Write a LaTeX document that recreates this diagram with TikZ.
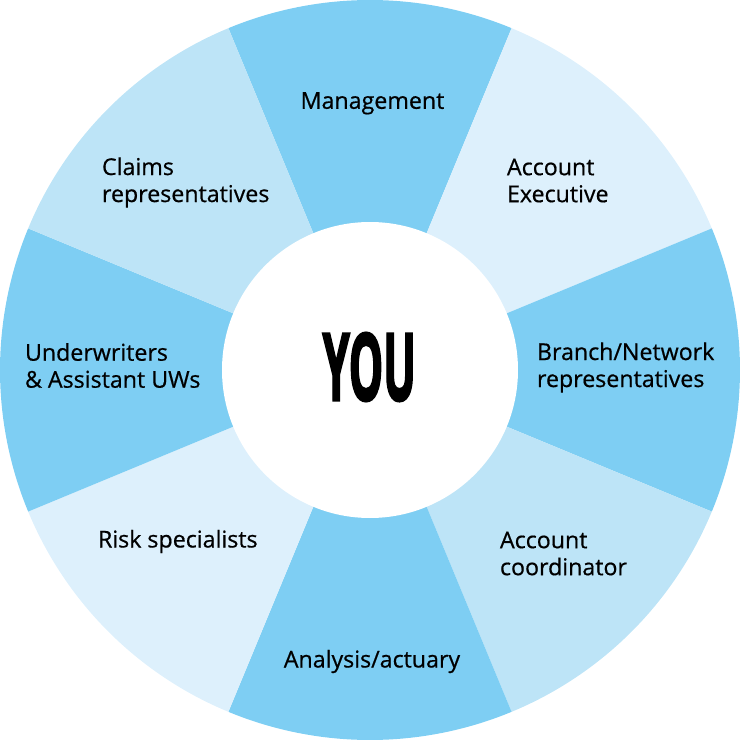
\documentclass[tikz,border=0pt]{standalone}
\usepackage{fontspec}
\setmainfont{Open Sans}[UprightFeatures={FakeBold=0.6},BoldFeatures={FakeBold=3}]
\definecolor{wheeldark}{HTML}{7ECEF3}
\definecolor{wheelmid}{HTML}{BDE4F7}
\definecolor{wheellight}{HTML}{DDF0FC}
\begin{document}
\begin{tikzpicture}[x=0.5pt,y=0.5pt,inner sep=0pt,outer sep=0pt,
role/.style={font=\fontsize{11.6}{13.5}\selectfont,align=left,anchor=west},
rolec/.style={font=\fontsize{11.6}{13.5}\selectfont,anchor=base}]
\useasboundingbox (-370,-370) rectangle (370,370);
% wheel sectors
\foreach \a/\c in {90/wheeldark,45/wheellight,0/wheeldark,-45/wheelmid,-90/wheeldark,-135/wheellight,180/wheeldark,135/wheelmid}
  \fill[\c] (0,0) -- (\a-22.5:370) arc[start angle=\a-22.5,end angle=\a+22.5,radius=370] -- cycle;
\fill[white] (0,0) circle[radius=148];
\node (you) at (-0.7,3) {\resizebox{46.6pt}{33.7pt}{\bfseries YOU}};
% labels
\node[rolec] (mgmt) at (2.5,261.2) {Management};
\node[role] (ae) at (137,189.5) {Account\\Executive};
\node[role] (branch) at (167,2.5) {Branch/Network\\representatives};
\node[role] (coord) at (130,-183.5) {Account\\coordinator};
\node[rolec] (actuary) at (2,-297.5) {Analysis/actuary};
\node[rolec,anchor=base west] (risk) at (-272,-177.5) {Risk specialists};
\node[role] (uw) at (-345,4.5) {Underwriters\\\& Assistant UWs};
\node[role] (claims) at (-268,187.5) {Claims\\representatives};
\end{tikzpicture}
\end{document}
